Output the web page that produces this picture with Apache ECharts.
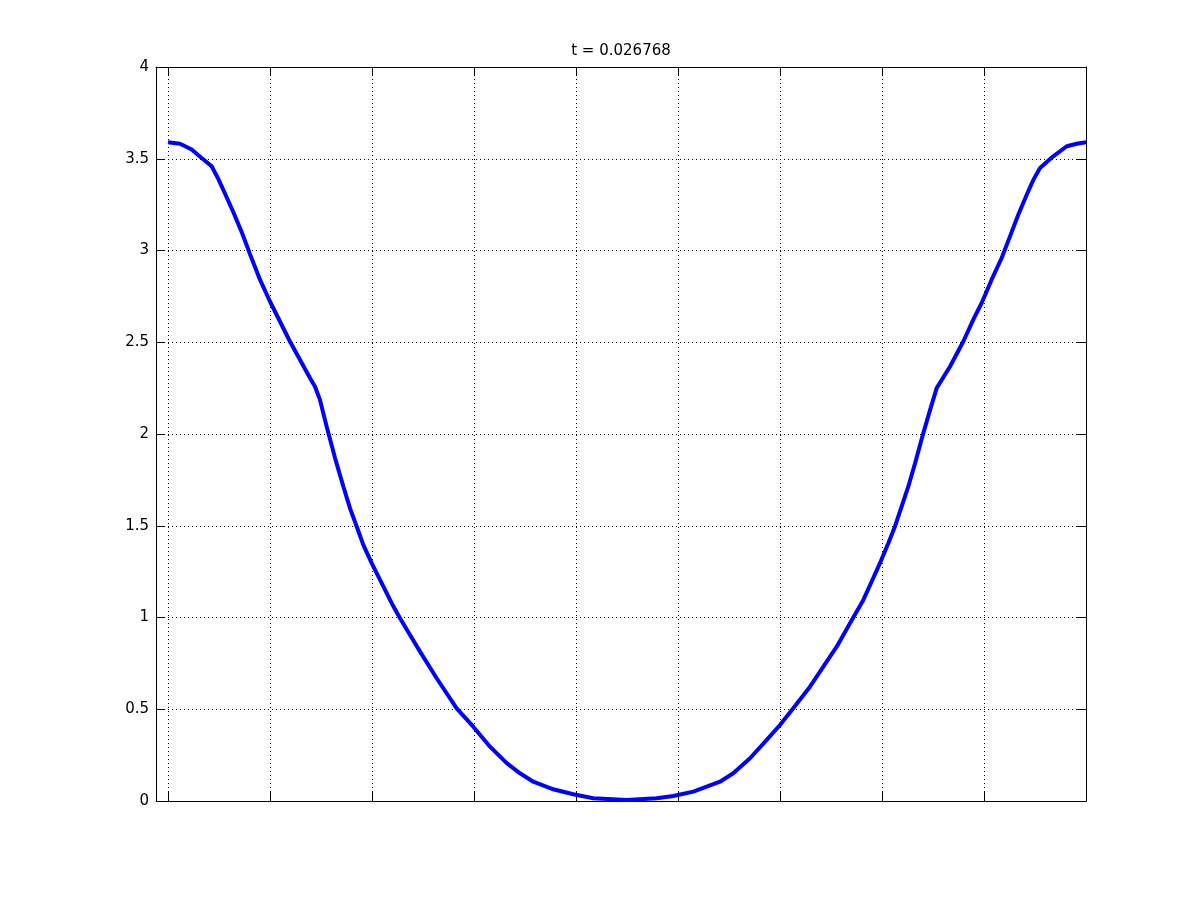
<!DOCTYPE html>
<html>
<head>
<meta charset="utf-8">
<script src="https://cdn.jsdelivr.net/npm/echarts@6/dist/echarts.min.js"></script>
<style>
html,body{margin:0;padding:0;background:#fff;}
#chart{width:1200px;height:900px;}
</style>
</head>
<body>
<div id="chart"></div>
<script>
const titleText = 't = 0.026768';
const yTicks = [0, 0.5, 1, 1.5, 2, 2.5, 3, 3.5, 4];
const xPos = [0, 0.118, 0.232, 0.330, 0.428, 0.493, 0.575, 0.640, 0.723, 0.804, 0.902, 1.0, 1.098, 1.196, 1.294, 1.392, 1.441, 1.490, 1.556, 1.637, 1.719, 1.784, 1.850, 1.915, 1.997, 2.095, 2.193, 2.275, 2.373, 2.471, 2.634, 2.830, 2.993, 3.157, 3.321, 3.451, 3.581, 3.777, 3.974, 4.170, 4.497, 4.791, 4.954, 5.150, 5.412, 5.542, 5.706, 5.870, 6.0, 6.130, 6.294, 6.425, 6.556, 6.703, 6.817, 6.899, 6.980, 7.062, 7.127, 7.193, 7.258, 7.324, 7.405, 7.471, 7.536, 7.667, 7.797, 7.895, 7.977, 8.075, 8.173, 8.255, 8.336, 8.419, 8.484, 8.549, 8.679, 8.811, 8.909, 9.0];
const uValues = [3.590, 3.582, 3.550, 3.504, 3.459, 3.390, 3.290, 3.210, 3.100, 2.980, 2.841, 2.722, 2.613, 2.504, 2.405, 2.305, 2.259, 2.186, 2.040, 1.870, 1.714, 1.596, 1.496, 1.396, 1.296, 1.187, 1.078, 0.996, 0.905, 0.814, 0.669, 0.505, 0.405, 0.296, 0.206, 0.151, 0.105, 0.064, 0.037, 0.015, 0.005, 0.015, 0.027, 0.051, 0.105, 0.151, 0.233, 0.333, 0.414, 0.505, 0.623, 0.732, 0.841, 0.985, 1.096, 1.196, 1.296, 1.405, 1.496, 1.605, 1.714, 1.840, 2.005, 2.130, 2.250, 2.368, 2.504, 2.623, 2.714, 2.841, 2.959, 3.077, 3.195, 3.304, 3.385, 3.450, 3.513, 3.568, 3.582, 3.590];

const seriesData = xPos.map((x, i) => [x, uValues[i]]);
const font = 'DejaVu Sans';
const dotted = { show: true, lineStyle: { color: '#000', width: 1, type: [1, 3] } };
const frameLine = { show: true, onZero: false, lineStyle: { color: '#000', width: 1 } };
const inTick = { show: true, inside: true, length: 9, lineStyle: { color: '#000', width: 1 } };

const chart = echarts.init(document.getElementById('chart'), null, { renderer: 'canvas' });
chart.setOption({
  backgroundColor: '#fff',
  animation: false,
  title: {
    text: titleText,
    left: 616,
    top: 39,
    textAlign: 'center',
    textStyle: { fontFamily: font, fontSize: 15, fontWeight: 'normal', color: '#000' }
  },
  grid: [
    { left: 156, right: 114, top: 67, bottom: 99, containLabel: false },
    { left: 168, right: 114, top: 67, bottom: 99, containLabel: false }
  ],
  xAxis: [
    { gridIndex: 0, type: 'value', min: 0, max: 1, position: 'bottom',
      axisLine: frameLine, axisTick: { show: false }, axisLabel: { show: false }, splitLine: { show: false } },
    { gridIndex: 0, type: 'value', min: 0, max: 1, position: 'top',
      axisLine: frameLine, axisTick: { show: false }, axisLabel: { show: false }, splitLine: { show: false } },
    { gridIndex: 1, type: 'value', min: 0, max: 9, interval: 1, position: 'bottom',
      axisLine: { show: false, onZero: false },
      axisTick: inTick,
      axisLabel: { show: false }, splitLine: dotted },
    { gridIndex: 1, type: 'value', min: 0, max: 9, interval: 1, position: 'top',
      axisLine: { show: false, onZero: false },
      axisTick: inTick,
      axisLabel: { show: false }, splitLine: { show: false } }
  ],
  yAxis: [
    { gridIndex: 0, type: 'value', min: yTicks[0], max: yTicks[yTicks.length - 1], interval: 0.5, position: 'left',
      axisLine: frameLine,
      axisTick: inTick,
      axisLabel: { show: true, margin: 7, fontFamily: font, fontSize: 15, color: '#000',
        formatter: v => String(v) },
      splitLine: dotted },
    { gridIndex: 0, type: 'value', min: yTicks[0], max: yTicks[yTicks.length - 1], interval: 0.5, position: 'right',
      axisLine: frameLine,
      axisTick: inTick,
      axisLabel: { show: false }, splitLine: { show: false } },
    { gridIndex: 1, type: 'value', min: 0, max: 4, show: false }
  ],
  series: [{
    type: 'line',
    xAxisIndex: 2,
    yAxisIndex: 2,
    data: seriesData,
    showSymbol: false,
    symbol: 'none',
    clip: false,
    lineStyle: { color: '#0000ff', width: 4 },
    z: 5
  }]
});
</script>
</body>
</html>
